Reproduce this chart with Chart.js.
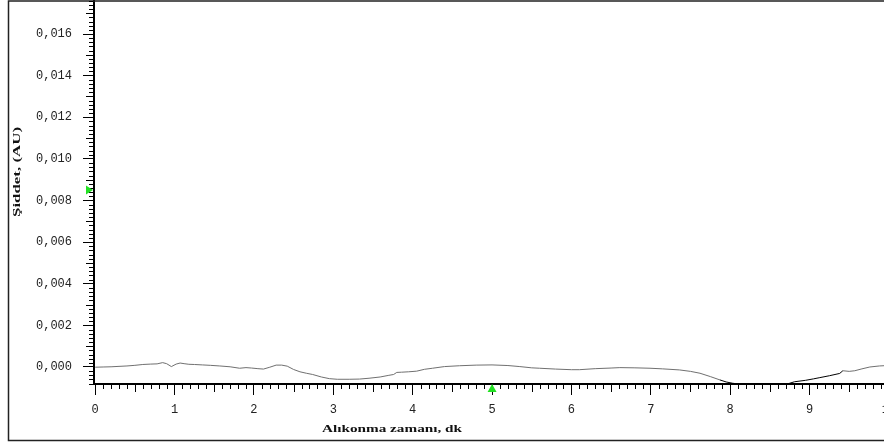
<!DOCTYPE html>
<html>
<head>
<meta charset="utf-8">
<script src="https://cdn.jsdelivr.net/npm/chart.js@4"></script>
<style>
  html, body { margin: 0; padding: 0; background: #fff; overflow: hidden; }
  canvas { display: block; }
</style>
</head>
<body>
<canvas id="chrom" width="900" height="445"></canvas>
<script>
// retention time (min) and detector signal (AU)
const retentionTime = [
  0.00, 0.10, 0.20, 0.30, 0.40, 0.50, 0.60, 0.70, 0.78, 0.85,
  0.90, 0.96, 1.02, 1.07, 1.12, 1.18, 1.25, 1.35, 1.45, 1.57,
  1.70, 1.82, 1.90, 1.97, 2.05, 2.12, 2.20, 2.28, 2.35, 2.42,
  2.50, 2.58, 2.66, 2.74, 2.85, 2.95, 3.05, 3.20, 3.33, 3.45,
  3.59, 3.70, 3.76, 3.80, 3.86, 3.95, 4.05, 4.15, 4.25, 4.40,
  4.59, 4.80, 5.00, 5.20, 5.35, 5.50, 5.60, 5.80, 6.00, 6.10,
  6.30, 6.50, 6.61, 6.80, 6.99, 7.15, 7.36, 7.50, 7.62, 7.75,
  7.87, 7.95, 8.03, 8.15, 8.30, 8.45, 8.60, 8.70, 8.81, 8.95,
  9.05, 9.13, 9.25, 9.38, 9.42, 9.50, 9.57, 9.66, 9.76, 9.88,
  9.98, 10.14
];
const intensity = [
  -0.00001, 0.00000, 0.00001, 0.00003, 0.00005, 0.00008, 0.00012, 0.00014, 0.00015, 0.00021,
  0.00016, 0.00002, 0.00014, 0.00019, 0.00016, 0.00013, 0.00012, 0.00010, 0.00008, 0.00005,
  0.00001, -0.00006, -0.00003, -0.00005, -0.00008, -0.00010, -0.00001, 0.00009, 0.00009, 0.00004,
  -0.00012, -0.00023, -0.00030, -0.00036, -0.00048, -0.00056, -0.00059, -0.00059, -0.00058, -0.00054,
  -0.00048, -0.00040, -0.00036, -0.00026, -0.00025, -0.00023, -0.00020, -0.00011, -0.00006, 0.00002,
  0.00006, 0.00009, 0.00010, 0.00007, 0.00002, -0.00004, -0.00006, -0.00010, -0.00013, -0.00013,
  -0.00008, -0.00005, -0.00003, -0.00004, -0.00006, -0.00009, -0.00014, -0.00021, -0.00030, -0.00046,
  -0.00062, -0.00072, -0.00078, -0.00084, -0.00092, -0.00095, -0.00090, -0.00084, -0.00071, -0.00064,
  -0.00057, -0.00051, -0.00042, -0.00031, -0.00018, -0.00021, -0.00018, -0.00009, 0.00000, 0.00005,
  0.00007, 0.00009
];
const xTicks = [0, 1, 2, 3, 4, 5, 6, 7, 8, 9, 10];
const yTicks = [0, 0.002, 0.004, 0.006, 0.008, 0.010, 0.012, 0.014, 0.016];
const baselineRange = [7.85, 9.42];   // integration baseline, drawn black
const markerLevel = 0.0085;           // green marker on the signal axis
const markerTime = 5;                 // green marker on the time axis

const xMin = -0.015, xMax = 10.14;
const yMin = -0.000817, yMax = 0.017634;

const zeroPad = s => { s.paddingTop = 0; s.paddingBottom = 0; s.paddingLeft = 0; s.paddingRight = 0; };

const decorations = {
  id: 'decorations',
  beforeDraw(chart) {
    const ctx = chart.ctx;
    ctx.save();
    ctx.fillStyle = '#fff';
    ctx.fillRect(0, 0, chart.width, chart.height);
    ctx.restore();
  },
  afterDraw(chart) {
    const { ctx, chartArea: area, scales: { x, y } } = chart;
    ctx.save();

    // frame round the whole plot
    ctx.strokeStyle = '#222';
    ctx.lineWidth = 1.5;
    ctx.strokeRect(8.5, 1, chart.width + 10, 439.5);

    // minor and half ticks
    ctx.strokeStyle = '#000';
    ctx.lineWidth = 1;
    ctx.beginPath();
    for (let k = -4; k <= 88; k++) {
      if (k % 10 === 0) continue;
      const py = Math.round(y.getPixelForValue(k * 0.0002)) + 0.5;
      const len = k % 5 === 0 ? 7 : 4;
      ctx.moveTo(area.left - 1, py);
      ctx.lineTo(area.left - 1 - len, py);
    }
    for (let k = 0; k <= 101; k++) {
      if (k % 10 === 0) continue;
      const px = Math.round(x.getPixelForValue(k * 0.1)) + 0.5;
      const len = k % 5 === 0 ? 7 : 4;
      ctx.moveTo(px, area.bottom + 1);
      ctx.lineTo(px, area.bottom + 1 + len);
    }
    ctx.stroke();

    // green markers
    ctx.fillStyle = '#22e022';
    const my = y.getPixelForValue(markerLevel);
    ctx.beginPath();
    ctx.moveTo(area.left - 1, my);
    ctx.lineTo(area.left - 8, my - 4.5);
    ctx.lineTo(area.left - 8, my + 4.5);
    ctx.closePath();
    ctx.fill();
    const mx = x.getPixelForValue(markerTime);
    ctx.beginPath();
    ctx.moveTo(mx, area.bottom);
    ctx.lineTo(mx - 4.5, area.bottom + 8);
    ctx.lineTo(mx + 4.5, area.bottom + 8);
    ctx.closePath();
    ctx.fill();

    // axis titles
    ctx.fillStyle = '#111';
    ctx.font = 'bold 11px "Liberation Serif"';
    ctx.textAlign = 'center';
    ctx.textBaseline = 'middle';
    const drawStretched = (text, cx, cy, width, angle) => {
      const w = ctx.measureText(text).width;
      ctx.save();
      ctx.translate(cx, cy);
      ctx.rotate(angle);
      ctx.scale(width / w, 1);
      ctx.fillText(text, 0, 0);
      ctx.restore();
    };
    drawStretched('Alıkonma zamanı, dk', 392, 429, 140, 0);
    drawStretched('Şiddet, (AU)', 17, 172, 90, -Math.PI / 2);

    ctx.restore();
  }
};

const ctx = document.getElementById('chrom').getContext('2d');
new Chart(ctx, {
  type: 'line',
  data: {
    labels: retentionTime,
    datasets: [{
      data: retentionTime.map((t, i) => ({ x: t, y: intensity[i] })),
      borderColor: '#707070',
      borderWidth: 1,
      pointRadius: 0,
      tension: 0,
      segment: {
        borderColor: c => (c.p0.parsed.x >= baselineRange[0] && c.p0.parsed.x < baselineRange[1]) ? '#000' : undefined
      }
    }]
  },
  options: {
    responsive: false,
    animation: false,
    layout: { padding: 0 },
    plugins: { legend: { display: false }, tooltip: { enabled: false } },
    scales: {
      x: {
        type: 'linear',
        min: xMin,
        max: xMax,
        afterBuildTicks: s => { s.ticks = xTicks.map(v => ({ value: v })); },
        afterFit: s => { s.height = 61; zeroPad(s); },
        border: { color: '#000', width: 2 },
        grid: { drawOnChartArea: false, drawTicks: true, tickLength: 11, tickColor: '#000', tickWidth: 1 },
        ticks: {
          autoSkip: false,
          maxRotation: 0,
          padding: 8,
          color: '#222',
          font: { family: '"Liberation Mono"', size: 12 },
          callback: v => String(v)
        }
      },
      y: {
        type: 'linear',
        min: yMin,
        max: yMax,
        afterBuildTicks: s => { s.ticks = yTicks.map(v => ({ value: v })); },
        afterFit: s => { s.width = 94; zeroPad(s); },
        border: { color: '#000', width: 2 },
        grid: { drawOnChartArea: false, drawTicks: true, tickLength: 11, tickColor: '#000', tickWidth: 1 },
        ticks: {
          autoSkip: false,
          padding: 11,
          color: '#222',
          font: { family: '"Liberation Mono"', size: 12 },
          callback: v => v.toFixed(3).replace('.', ',')
        }
      }
    }
  },
  plugins: [decorations]
});
</script>
</body>
</html>
